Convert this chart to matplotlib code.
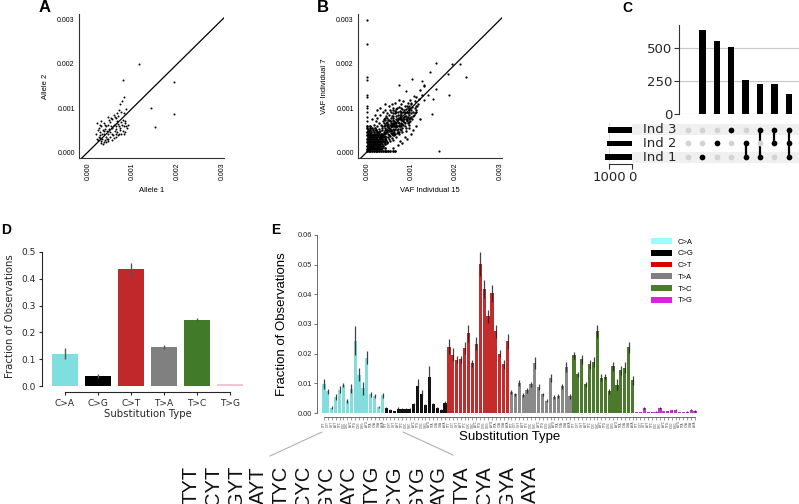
import matplotlib
matplotlib.use('Agg')
import matplotlib.pyplot as plt
import numpy as np
from matplotlib.patches import Patch
from matplotlib.lines import Line2D

# ---------------- data ----------------
# Panel A (units of 1e-5)
A_pts = [(20,30),(22,28),(25,35),(18,40),(28,45),(30,25),(32,30),(35,22),(38,28),(40,35),
         (24,55),(26,62),(20,65),(30,58),(34,50),(36,42),(42,48),(45,40),(48,52),(50,45),
         (52,60),(55,55),(58,62),(60,48),(62,58),(64,52),(66,70),(68,64),(70,60),(72,55),
         (74,68),(76,62),(78,72),(80,58),(82,65),(84,70),(86,60),(88,55),(90,62),(75,90),
         (65,88),(60,80),(55,75),(70,95),(72,110),(76,115),(80,125),(62,78),(50,68),(45,62),
         (40,58),(38,52),(35,48),(32,40),(28,38),(26,32),(42,30),(46,30),(50,35),(54,40),
         (56,38),(58,32),(62,42),(66,45),(70,40),(72,50),(78,48),(80,42),(84,45),(38,62),
         (48,72),(52,78),(30,70),(22,50),(35,66),(44,80),(58,85),(68,82),(80,88),(86,98),
         (30,20),(40,22),(34,18),(46,25),(55,28),(62,35),(68,38),(74,40),
         (114,200),(79,163),(194,158),(142,101),(194,87),(151,57)]

# Panel B (units of 1e-5)
B_core = [(0,2),(4,2),(8,2),(12,2),(16,2),(20,2),(24,2),(28,2),(32,2),(36,2),(40,2),(44,2),(48,2),(53,2),(58,2),(64,2),
          (0,6),(4,6),(8,6),(12,6),(16,6),(20,6),(24,6),(28,6),(33,6),
          (2,10),(6,10),(10,10),(14,10),(18,10),(22,10),(26,10),(30,10),(35,10),(40,10),
          (0,14),(4,14),(8,14),(12,14),(16,14),(20,14),(24,14),(28,14),(32,14),(37,14),
          (2,18),(6,18),(10,18),(14,18),(18,18),(22,18),(26,18),(30,18),(34,18),(40,18),
          (0,22),(4,22),(8,22),(12,22),(16,22),(20,22),(24,22),(28,22),(33,22),(38,22),(45,22),
          (2,26),(6,26),(10,26),(14,26),(18,26),(22,26),(26,26),(30,26),(36,26),
          (0,30),(4,30),(8,30),(12,30),(16,30),(20,30),(24,30),(29,30),(35,30),(42,30),
          (2,34),(6,34),(10,34),(14,34),(18,34),(22,34),(27,34),(33,34),(40,34),
          (0,38),(4,38),(8,38),(12,38),(16,38),(20,38),(26,38),(32,38),
          (2,42),(6,42),(10,42),(15,42),(20,42),(25,42),(31,42),
          (0,46),(5,46),(10,46),(16,46),(22,46),(28,46),
          (2,50),(8,50),(14,50),(20,50),(0,55),(6,55),(12,55),(18,55),(0,60),(8,60)]
B_cloud = [(40,50),(45,62),(50,55),(55,70),(60,65),(65,75),(70,68),(75,80),(80,72),(85,88),
           (48,40),(52,48),(58,52),(62,58),(68,60),(72,62),(78,66),(82,70),(88,75),(92,80),
           (35,55),(38,65),(42,72),(46,78),(50,85),(55,90),(60,95),(66,98),(72,102),(78,108),
           (44,35),(50,38),(56,42),(62,45),(68,50),(74,52),(80,55),(86,60),(92,65),(98,70),
           (30,48),(34,58),(38,45),(42,55),(46,68),(52,62),(56,58),(64,68),(70,78),(76,72),
           (84,80),(90,90),(96,85),(100,95),(104,90),(108,100),(112,105),(95,105),(88,98),(82,92),
           (25,45),(28,52),(32,62),(36,70),(40,78),(46,88),(52,95),(58,100),(64,88),(70,92),
           (74,85),(80,98),(86,105),(92,112),(98,118),(60,82),(54,78),(48,72),(44,82),(38,75),
           (20,50),(24,58),(28,66),(26,40),(30,38),(34,42),(38,36),(42,40),(46,46),(54,50),
           (58,44),(64,52),(66,62),(72,58),(76,64),(84,68),(90,72),(94,76),(100,80),(106,85),
           (110,92),(102,75),(96,62),(88,55),(78,50),(70,45),(62,38),(56,32),(50,30),(44,28),
           (115,110),(118,120),(108,115),(100,108),(92,100),(86,92),(76,88),(66,82),(58,72),(48,60),
           (35,30),(40,25),(45,20),(52,25),(60,28),(66,35),(72,40),(80,45),(88,48),(94,55),
           (20,70),(24,78),(30,85),(36,90),(42,95),(50,105),(56,110),(64,112),(72,118),(82,115),
           (60,10),(70,15),(80,20),(90,30),(100,40),(110,60),(120,75),(105,50),(85,35),(75,25),
           (15,62),(12,75),(18,85),(22,95),(30,100),(40,110),(110,125),(125,130),(120,140),(130,150),
           (36,40),(40,44),(44,50),(48,56),(52,52),(56,64),(60,58),(64,60),(68,72),(72,66),
           (76,76),(80,64),(84,74),(88,82),(92,88),(96,92),(100,88),(54,66),(58,78),(62,70),
           (66,66),(70,84),(74,94),(78,84),(82,78),(86,82),(90,78),(94,95),(98,100),(102,102),
           (42,62),(46,58),(50,72),(54,60),(58,66),(62,64),(66,90),(70,74),(74,78),(78,92),
           (34,50),(38,58),(42,46),(46,52),(50,48),(54,44),(58,38),(62,50),(66,56),(70,52),
           (74,60),(78,58),(82,62),(86,66),(90,70),(94,68),(98,78),(104,82),(108,88),(112,95),
           (32,36),(36,34),(40,30),(48,34),(52,36),(56,48),(60,42),(64,40),(68,44),(72,46),
           (44,66),(48,64),(52,70),(56,82),(60,88),(64,94),(68,100),(76,100),(84,96),(90,104)]
B_outliers = [(0,70),(0,80),(0,90),(0,100),(0,105),(0,125),(0,130),(0,164),(0,170),(0,245),(0,299),
              (157,202),(193,200),(211,200),(223,170),(182,178),(186,129),(156,143),(148,86),
              (162,2),(142,181),(129,153),(103,167),(124,161),(73,153),(89,138),(107,127),
              (129,119),(137,130),(150,120),(114,104),(99,111)]

# Panel C (UpSet)
sets = ['Ind 1', 'Ind 2', 'Ind 3']
set_sizes = [1175, 1100, 1030]
intersections = [[], [0], [1], [2], [0, 1], [0, 2], [1, 2], [0, 1, 2]]
inter_counts = [0, 636, 553, 505, 258, 227, 227, 149]

# Panel D
subs = ['C>A', 'C>G', 'C>T', 'T>A', 'T>C', 'T>G']
d_vals = [0.120, 0.037, 0.435, 0.145, 0.248, 0.008]
d_err = [0.020, 0.008, 0.025, 0.008, 0.007, 0.001]
d_colors = ['#7fdfdf', '#000000', '#c0282b', '#808080', '#417a29', '#f2c5d3']

# Panel E
contexts = ['TYT', 'CYT', 'GYT', 'AYT', 'TYC', 'CYC', 'GYC', 'AYC',
            'TYG', 'CYG', 'GYG', 'AYG', 'TYA', 'CYA', 'GYA', 'AYA']
e_CA = [0.0097, 0.0073, 0.0018, 0.0054, 0.0078, 0.0094, 0.0041, 0.0082, 0.0244, 0.0129, 0.0084, 0.0187, 0.0063, 0.0058, 0.0021, 0.0060]
e_CG = [0.0017, 0.0011, 0.0006, 0.0015, 0.0015, 0.0015, 0.0015, 0.0029, 0.0090, 0.0063, 0.0027, 0.0120, 0.0029, 0.0017, 0.0011, 0.0034]
e_CT = [0.0224, 0.0196, 0.0179, 0.0181, 0.0220, 0.0268, 0.0167, 0.0234, 0.0503, 0.0417, 0.0326, 0.0403, 0.0276, 0.0200, 0.0164, 0.0242]
e_TA = [0.0071, 0.0063, 0.0101, 0.0060, 0.0077, 0.0097, 0.0170, 0.0088, 0.0063, 0.0041, 0.0117, 0.0054, 0.0057, 0.0090, 0.0155, 0.0056]
e_TC = [0.0195, 0.0130, 0.0181, 0.0097, 0.0164, 0.0172, 0.0276, 0.0119, 0.0122, 0.0073, 0.0158, 0.0096, 0.0144, 0.0153, 0.0221, 0.0110]
e_TG = [0.0003, 0.0003, 0.0018, 0.0004, 0.0004, 0.0005, 0.0017, 0.0007, 0.0006, 0.0009, 0.0011, 0.0003, 0.0003, 0.0004, 0.0011, 0.0007]
err_CA = [0.0017, 0.0008, 0.0004, 0.0010, 0.0012, 0.0008, 0.0007, 0.0015, 0.0050, 0.0022, 0.0022, 0.0023, 0.0008, 0.0007, 0.0004, 0.0008]
err_CG = [0.0003, 0.0003, 0.0002, 0.0004, 0.0003, 0.0003, 0.0003, 0.0005, 0.0026, 0.0015, 0.0005, 0.0040, 0.0004, 0.0003, 0.0003, 0.0007]
err_CT = [0.0025, 0.0022, 0.0012, 0.0012, 0.0020, 0.0028, 0.0012, 0.0022, 0.0040, 0.0030, 0.0022, 0.0028, 0.0022, 0.0012, 0.0015, 0.0025]
err_TA = [0.0007, 0.0006, 0.0010, 0.0006, 0.0008, 0.0009, 0.0020, 0.0009, 0.0006, 0.0005, 0.0013, 0.0006, 0.0006, 0.0008, 0.0018, 0.0008]
err_TC = [0.0012, 0.0008, 0.0015, 0.0008, 0.0015, 0.0016, 0.0022, 0.0012, 0.0008, 0.0008, 0.0015, 0.0018, 0.0016, 0.0018, 0.0018, 0.0014]
err_TG = [0.0001, 0.0001, 0.0003, 0.0001, 0.0001, 0.0001, 0.0003, 0.0001, 0.0001, 0.0002, 0.0001, 0.0001, 0.0001, 0.0002, 0.0002, 0.0002]
e_bar_colors = ['#84dcdc', '#111111', '#c62b2b', '#8a8a8a', '#4b7a2c', '#c436cc']
e_leg_colors = ['#99ffff', '#000000', '#dd0000', '#808080', '#4b7d28', '#dd22dd']

# ---------------- figure ----------------
W, H = 799, 504
fig = plt.figure(figsize=(W / 100, H / 100), dpi=100)
ARIAL = 'Liberation Sans'
DJ = 'DejaVu Sans'


def box(x0, y0, x1, y1):
    return [x0 / W, 1 - y1 / H, (x1 - x0) / W, (y1 - y0) / H]


def scatter_panel(rect, pts_list, xl, yl, size):
    ax = fig.add_axes(rect)
    for pts, s in zip(pts_list, size):
        xs = [p[0] * 1e-5 for p in pts]
        ys = [p[1] * 1e-5 for p in pts]
        ax.scatter(xs, ys, s=s, c='black', linewidths=0, zorder=3)
    ax.axline((0, 0), slope=1, color='black', lw=0.9, zorder=2)
    ax.set_xlim(-0.0002, 0.00305)
    ax.set_ylim(-0.000136, 0.003136)
    for sp in ['top', 'right']:
        ax.spines[sp].set_visible(False)
    for sp in ['left', 'bottom']:
        ax.spines[sp].set_linewidth(0.8)
        ax.spines[sp].set_color('#333333')
    ax.tick_params(length=0, pad=3)
    ticks = [0, 0.001, 0.002, 0.003]
    ax.set_xticks(ticks)
    ax.set_yticks(ticks)
    ax.set_xticklabels([f'{t:.3f}' for t in ticks], rotation=90, fontsize=5, family=ARIAL)
    ax.set_yticklabels([f'{t:.3f}' for t in ticks], fontsize=5, family=ARIAL)
    ax.set_xlabel(xl, fontsize=5.5, family=ARIAL, labelpad=5)
    ax.set_ylabel(yl, fontsize=5.5, family=ARIAL, labelpad=6)
    return ax


# Panel A
scatter_panel(box(79, 14, 224, 158), [A_pts], 'Allele 1', 'Allele 2', [2.0])
# Panel B
scatter_panel(box(358, 14, 502, 158), [B_core, B_cloud, B_outliers], 'VAF Individual 15', 'VAF Individual 7', [4.0, 3.0, 2.5])

# Panel C: UpSet
cfs = 9.5
axCb = fig.add_axes(box(679, 25, 799, 114))
xc = np.arange(len(inter_counts))
axCb.bar(xc, inter_counts, width=0.45, color='black', zorder=3)
axCb.set_xlim(-0.625, 7.71)
axCb.set_ylim(0, 673)
for sp in ['top', 'right', 'bottom']:
    axCb.spines[sp].set_visible(False)
axCb.spines['left'].set_color('#333333')
axCb.spines['left'].set_linewidth(0.8)
axCb.tick_params(axis='y', length=3.5, width=0.8, pad=1.5, color='#333333')
axCb.set_yticks([0, 250, 500])
axCb.set_yticklabels(['0', '250', '500'], fontsize=cfs, family=DJ, color='#262626')
axCb.set_xticks([])
axCb.yaxis.grid(True, color='#c8c8c8', lw=0.8, zorder=0)

axCm = fig.add_axes(box(632, 123, 799, 164))
axCm.set_xlim(-3.89, 7.71)
axCm.set_ylim(-0.5, 2.5)
for r in [0, 2]:
    axCm.axhspan(r - 0.4, r + 0.4, color='#f0f0f0', lw=0, zorder=0)
for r, name in enumerate(sets):
    axCm.text(-3.13, r, name, ha='left', va='center', fontsize=cfs, family=DJ, color='#262626')
for c, mem in enumerate(intersections):
    for r in range(len(sets)):
        axCm.scatter([c], [r], s=17, c='black' if r in mem else '#d3d3d3', linewidths=0, zorder=3)
    if len(mem) > 1:
        axCm.plot([c, c], [min(mem), max(mem)], color='black', lw=1.6, zorder=2)
axCm.axis('off')

axCs = fig.add_axes(box(597, 123, 632, 164))
axCs.barh(range(len(sets)), set_sizes, height=0.42, color='black', zorder=3)
axCs.set_xlim(1522, 0)
axCs.set_ylim(-0.5, 2.5)
axCs.axvline(1000, color='#dddddd', lw=0.8, zorder=0)
for sp in ['top', 'right', 'left']:
    axCs.spines[sp].set_visible(False)
axCs.spines['bottom'].set_bounds(0, 1000)
axCs.spines['bottom'].set_color('#333333')
axCs.spines['bottom'].set_linewidth(0.8)
axCs.tick_params(axis='x', length=3.5, width=0.8, pad=1.5, color='#333333')
axCs.set_yticks([])
axCs.set_xticks([1000, 0])
axCs.set_xticklabels(['1000', '0'], fontsize=cfs, family=DJ, color='#262626')

# Panel D
axD = fig.add_axes(box(45, 246.6, 250, 386))
xd = np.arange(len(subs))
axD.bar(xd, d_vals, width=0.8, color=d_colors, zorder=2)
axD.errorbar(xd, d_vals, yerr=d_err, fmt='none', ecolor='#555555', elinewidth=1, capsize=0, zorder=3)
axD.set_xlim(-0.6, 5.6)
axD.set_ylim(0, 0.52)
for sp in ['top', 'right']:
    axD.spines[sp].set_visible(False)
axD.spines['left'].set_position(('outward', 2))
axD.spines['left'].set_bounds(0, 0.5)
axD.spines['bottom'].set_position(('outward', 4.5))
axD.spines['bottom'].set_bounds(0, 5)
for sp in ['left', 'bottom']:
    axD.spines[sp].set_color('#262626')
    axD.spines[sp].set_linewidth(0.8)
axD.tick_params(length=2.5, width=0.8, pad=2, color='#262626')
axD.set_yticks([0, 0.1, 0.2, 0.3, 0.4, 0.5])
axD.set_yticklabels(['0.0', '0.1', '0.2', '0.3', '0.4', '0.5'], fontsize=6.5, family=DJ, color='#262626')
axD.set_xticks(xd)
axD.set_xticklabels(subs, fontsize=6.5, family=DJ, color='#262626')
axD.set_ylabel('Fraction of Observations', fontsize=7.3, family=DJ, color='#262626', labelpad=5)
axD.set_xlabel('Substitution Type', fontsize=7.3, family=DJ, color='#262626', labelpad=1)

# Panel E
axE = fig.add_axes(box(320, 235, 699, 413))
groups = [e_CA, e_CG, e_CT, e_TA, e_TC, e_TG]
errs = [err_CA, err_CG, err_CT, err_TA, err_TC, err_TG]
for g, (vals, er) in enumerate(zip(groups, errs)):
    xe = np.arange(len(vals)) + g * len(contexts)
    axE.bar(xe, vals, width=0.82, color=e_bar_colors[g], edgecolor='none', zorder=2)
    axE.errorbar(xe, vals, yerr=er, fmt='none', ecolor='#222222', elinewidth=0.9, alpha=0.85, capsize=0, zorder=3)
n_e = len(contexts) * len(groups)
axE.set_xlim(-1, n_e)
axE.set_ylim(0, 0.06)
for sp in ['top', 'right']:
    axE.spines[sp].set_visible(False)
axE.spines['left'].set_position(('outward', 2))
axE.spines['left'].set_bounds(0, 0.06)
axE.spines['bottom'].set_position(('outward', 3))
axE.spines['bottom'].set_bounds(0, n_e - 1)
for sp in ['left', 'bottom']:
    axE.spines[sp].set_color('#555555')
    axE.spines[sp].set_linewidth(0.6)
axE.tick_params(axis='x', length=2, width=0.4, pad=1, color='#555555')
axE.tick_params(axis='y', length=2, width=0.6, pad=2, color='#555555')
axE.set_yticks([0, 0.01, 0.02, 0.03, 0.04, 0.05, 0.06])
axE.set_yticklabels(['0.00', '0.01', '0.02', '0.03', '0.04', '0.05', '0.06'], fontsize=5.3, family=ARIAL, color='#222222')
axE.set_xticks(np.arange(n_e))
axE.set_xticklabels(contexts * len(groups), rotation=90, fontsize=2.2, family=ARIAL, color='#444444')
axE.set_ylabel('Fraction of Observations', fontsize=9.5, family=ARIAL, labelpad=7)
axE.set_xlabel('Substitution Type', fontsize=9.5, family=ARIAL, labelpad=2)

handles = [Patch(facecolor=c, edgecolor='none', label=l) for c, l in zip(e_leg_colors, subs)]
fig.legend(handles=handles, loc='upper left', bbox_to_anchor=(651 / W, 1 - 238 / H), frameon=False,
           prop={'family': ARIAL, 'size': 5.5}, handlelength=2.7, handleheight=0.8,
           labelspacing=0.55, handletextpad=0.8, borderpad=0, borderaxespad=0)

# zoom guide lines and enlarged context labels
for (x0, y0, x1, y1) in [(322, 432, 270, 456), (403, 432, 453, 455)]:
    fig.add_artist(Line2D([x0 / W, x1 / W], [1 - y0 / H, 1 - y1 / H], transform=fig.transFigure,
                          color='#b0b0b0', lw=0.8))
for i, ctx in enumerate(contexts):
    fig.text((191 + 22.6 * i) / W, 1 - 466 / H, ctx, rotation=90, ha='center', va='top',
             fontsize=14.5, family=ARIAL, color='#111111')

# panel letters
for lab, x, y, fs in [('A', 45, 8, 12), ('B', 323, 8, 12), ('C', 627, 8, 10),
                      ('D', 6, 230, 10), ('E', 276, 230, 10)]:
    fig.text(x / W, 1 - y / H, lab, fontsize=fs, fontweight='bold', family=ARIAL, ha='center', va='center')

fig.savefig('out.png', dpi=100)
